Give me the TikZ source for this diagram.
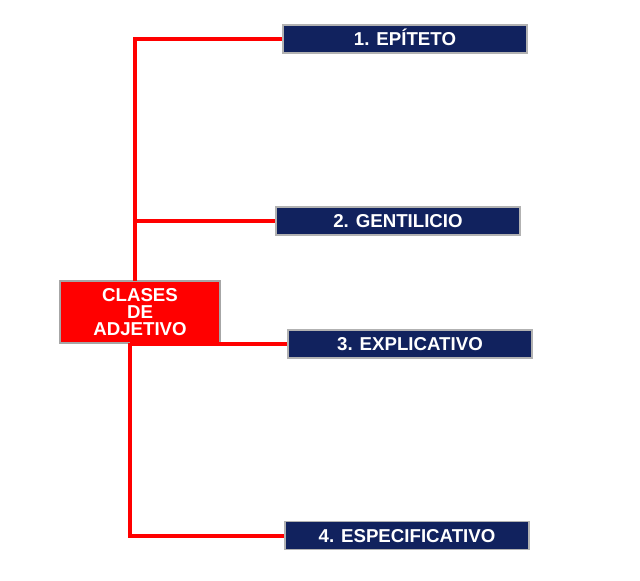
\documentclass[tikz,border=0pt]{standalone}
\usepackage{fontspec}
\setmainfont{Liberation Sans}
\definecolor{azul}{RGB}{17,34,94}
\begin{document}
\begin{tikzpicture}[x=0.75pt,y=-0.75pt,
    clase/.style={draw=gray!60,line width=0.8pt,fill=azul,text=white,
      font=\bfseries\fontsize{14}{15}\selectfont,text height=10pt,text depth=0pt,
      minimum width=183pt,minimum height=21pt,inner sep=0pt},
    raiz/.style={draw=gray!70,line width=0.8pt,fill=red,text=white,align=center,
      font=\bfseries\fontsize{14}{12.5}\selectfont,
      minimum width=120pt,minimum height=46.5pt,inner sep=0pt},
    rama/.style={red,line width=3pt}]
        \useasboundingbox(0,0)rectangle(640,581);
        \node[raiz](C)at(140,312){CLASES\\DE\\ADJETIVO};
        \node[clase](E1)at(405,39){1. EPÍTETO};
        \node[clase](E2)at(398,221){2. GENTILICIO};
        \node[clase](E3)at(410,344){3. EXPLICATIVO};
        \node[clase](E4)at(407,535.5){4. ESPECIFICATIVO};
        \coordinate(T)at(135,281);
        \coordinate(B)at(130,343);
        \draw[rama](T)|-(E1.west);
        \draw[rama](T|-E2.west)--(E2.west);
        \draw[rama](B)|-(E4.west);
        \draw[rama](B|-E3.west)--(E3.west);
    \end{tikzpicture}
\end{document}
